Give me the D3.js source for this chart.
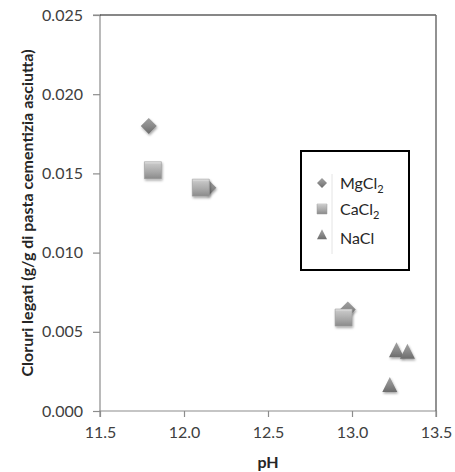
<!DOCTYPE html>
<html>
<head>
<meta charset="utf-8">
<script src="https://cdn.jsdelivr.net/npm/d3@7"></script>
<style>
  html, body { margin: 0; padding: 0; background: #fff; }
  svg { display: block; font-family: Lato, "Open Sans", sans-serif; }
</style>
</head>
<body>
<svg id="chart" width="455" height="472"></svg>
<script>
// Bound chlorides vs pH for three salt solutions
const seriesNames = ["MgCl2", "CaCl2", "NaCl"];
const mgcl2pH = [11.79, 12.145, 12.975];
const mgcl2Cl = [0.0180, 0.0141, 0.0064];
const cacl2pH = [11.815, 12.10, 12.95];
const cacl2Cl = [0.0152, 0.0141, 0.0059];
const naclpH = [13.225, 13.265, 13.33];
const naclCl = [0.0016, 0.0038, 0.0037];
const xTicks = [11.5, 12.0, 12.5, 13.0, 13.5];
const yTicks = [0.000, 0.005, 0.010, 0.015, 0.020, 0.025];

const svg = d3.select("#chart");
const plotL = 100, plotR = 436, plotT = 15, plotB = 411;

const x = d3.scaleLinear().domain([11.5, 13.5]).range([plotL, plotR]);
const y = d3.scaleLinear().domain([0, 0.025]).range([plotB, plotT]);

const defs = svg.append("defs");
const shadow = defs.append("filter").attr("id", "shadow")
  .attr("x", "-50%").attr("y", "-50%").attr("width", "200%").attr("height", "200%");
shadow.append("feDropShadow").attr("dx", 0.8).attr("dy", 1.6)
  .attr("stdDeviation", 1.2).attr("flood-color", "#000").attr("flood-opacity", 0.35);

function grad(id, stops) {
  const g = defs.append("linearGradient").attr("id", id)
    .attr("x1", 0).attr("y1", 0).attr("x2", 0).attr("y2", 1);
  stops.forEach(([o, c]) => g.append("stop").attr("offset", o).attr("stop-color", c));
}
grad("gDiamond", [[0, "#a0a0a0"], [0.5, "#8a8a8a"], [1, "#6a6a6a"]]);
grad("gSquare", [[0, "#e8e8e8"], [0.15, "#c4c4c4"], [0.6, "#a8a8a8"], [1, "#8a8a8a"]]);
grad("gTriangle", [[0, "#a2a2a2"], [0.5, "#8a8a8a"], [1, "#6c6c6c"]]);

// Axes
const yAxis = d3.axisLeft(y).tickValues(yTicks).tickFormat(d3.format(".3f")).tickSize(7).tickPadding(10);
const xAxis = d3.axisBottom(x).tickValues(xTicks).tickFormat(d3.format(".1f")).tickSize(6).tickPadding(10);

const gy = svg.append("g").attr("transform", `translate(${plotL},0)`).call(yAxis);
const gx = svg.append("g").attr("transform", `translate(0,${plotB})`).call(xAxis);
[gx, gy].forEach(g => {
  g.select(".domain").attr("stroke", "#8c8c8c").attr("stroke-width", 1.2);
  g.selectAll(".tick line").attr("stroke", "#8c8c8c").attr("stroke-width", 1.2);
  g.selectAll(".tick text").attr("fill", "#404040").attr("font-size", 16)
    .attr("font-family", "Lato, 'Open Sans', sans-serif");
});
gy.select(".domain").attr("d", `M-7,${plotT}H0V${plotB}`);
gx.select(".domain").attr("d", `M${plotL},6V0H${plotR}V6`);

// Top and right frame
svg.append("line").attr("x1", plotL).attr("x2", plotR).attr("y1", plotT).attr("y2", plotT)
  .attr("stroke", "#111").attr("stroke-width", 1.2);
svg.append("line").attr("x1", plotR).attr("x2", plotR).attr("y1", plotT).attr("y2", plotB)
  .attr("stroke", "#6e6e6e").attr("stroke-width", 1.5);

// Axis titles
svg.append("text").attr("x", (plotL + plotR) / 2).attr("y", 468)
  .attr("text-anchor", "middle").attr("font-weight", "bold").attr("font-size", 16)
  .attr("fill", "#262626").text("pH");
svg.append("text")
  .attr("transform", `translate(33,${(plotT + plotB) / 2}) rotate(-90)`)
  .attr("text-anchor", "middle").attr("font-weight", "bold").attr("font-size", 16)
  .attr("fill", "#262626").text("Cloruri legati (g/g di pasta cementizia asciutta)");

// Marker shapes
const shapes = {
  MgCl2: { path: s => `M0,${-s}L${s},0L0,${s}L${-s},0Z`, fill: "url(#gDiamond)" },
  CaCl2: { path: s => `M${-s},${-s}H${s}V${s}H${-s}Z`, fill: "url(#gSquare)" },
  NaCl: { path: s => `M0,${-s * 1.15}L${s},${s * 0.85}H${-s}Z`, fill: "url(#gTriangle)" }
};
const seriesData = [
  { name: "MgCl2", px: mgcl2pH, py: mgcl2Cl, size: 8 },
  { name: "CaCl2", px: cacl2pH, py: cacl2Cl, size: 8.5 },
  { name: "NaCl", px: naclpH, py: naclCl, size: 7.5 }
];

const plot = svg.append("g");
seriesData.forEach(sr => {
  const pts = sr.px.map((v, i) => [v, sr.py[i]]);
  plot.append("g").selectAll("path").data(pts).join("path")
    .attr("transform", d => `translate(${x(d[0])},${y(d[1])})`)
    .attr("d", shapes[sr.name].path(sr.size))
    .attr("fill", shapes[sr.name].fill)
    .attr("stroke", sr.name === "CaCl2" ? "#9a9a9a" : "none")
    .attr("stroke-width", 0.6)
    .attr("filter", "url(#shadow)");
});

// Legend
const lg = svg.append("g");
lg.append("rect").attr("x", 301).attr("y", 151).attr("width", 108).attr("height", 119)
  .attr("fill", "#fff").attr("stroke", "#000").attr("stroke-width", 2);
lg.append("line").attr("x1", 332).attr("x2", 332).attr("y1", 174).attr("y2", 254)
  .attr("stroke", "#e4e4e4").attr("stroke-width", 1);
seriesNames.forEach((name, i) => {
  const cy = 183 + i * 26;
  lg.append("path").attr("transform", `translate(322,${cy})`)
    .attr("d", shapes[name].path(5))
    .attr("fill", shapes[name].fill)
    .attr("stroke", name === "CaCl2" ? "#9a9a9a" : "none").attr("stroke-width", 0.5);
  const t = lg.append("text").attr("x", 340).attr("y", cy + 6 + (name === "NaCl" ? 3 : 0))
    .attr("font-size", 16).attr("fill", "#262626");
  const m = name.match(/^(.*?)(\d*)$/);
  t.append("tspan").text(m[1]);
  if (m[2]) t.append("tspan").attr("font-size", 11).attr("dy", 4).text(m[2]);
});
</script>
</body>
</html>
